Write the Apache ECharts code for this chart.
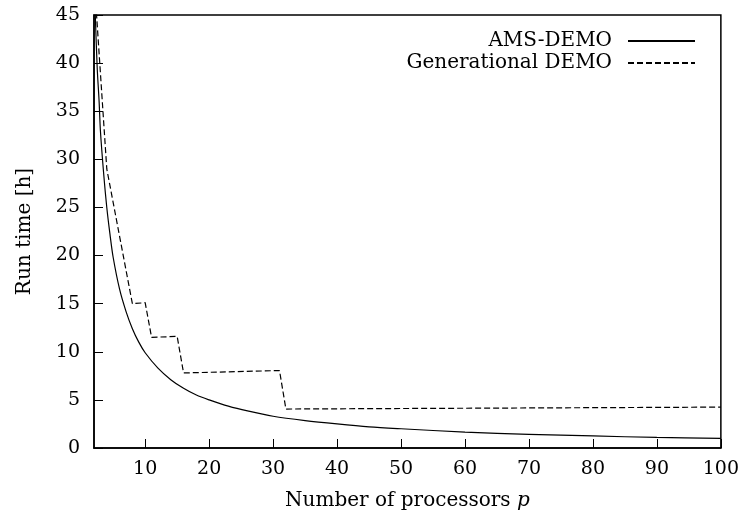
<!DOCTYPE html>
<html><head><meta charset="utf-8">
<script src="https://cdn.jsdelivr.net/npm/echarts@6/dist/echarts.min.js"></script>
<style>html,body{margin:0;padding:0;background:#fff}#c{width:742px;height:523px}</style>
</head><body><div id="c"></div>
<script>
// AMS-DEMO run time readings (p, hours)
const amsP = [2, 2.2, 2.5, 2.8, 3, 3.5, 4, 4.5, 5, 6, 7, 8, 9, 10, 12, 14, 16, 18, 20, 23, 26, 30, 35, 40, 45, 50, 60, 70, 80, 90, 100];
const amsH = [49, 45, 39.5, 36, 33, 28.6, 25, 22.2, 19.8, 16.5, 14.2, 12.4, 11.0, 9.9, 8.3, 7.1, 6.2, 5.5, 5.0, 4.35, 3.85, 3.3, 2.85, 2.5, 2.2, 2.0, 1.65, 1.42, 1.25, 1.1, 1.0];
// Generational DEMO run time readings
const genP = [2, 3, 4, 5, 6, 7, 8, 10, 11, 15, 16, 31, 32, 100];
const genH = [49, 39, 29, 25.5, 22, 18.5, 15, 15.1, 11.5, 11.6, 7.8, 8.05, 4.05, 4.25];
const xTicks = [10, 20, 30, 40, 50, 60, 70, 80, 90, 100];
const seriesNames = ['AMS-DEMO', 'Generational DEMO'];

const FONT = 'DejaVu Serif';
const FS = 19;
const FN = 20;
const zip = (a, b) => a.map((v, i) => [v, b[i]]);
const chart = echarts.init(document.getElementById('c'), null, {renderer: 'canvas'});
chart.setOption({
  animation: false,
  backgroundColor: '#fff',
  textStyle: {fontFamily: FONT, color: '#000'},
  grid: {left: 94, right: 19, top: 15, bottom: 75, show: true, borderColor: '#000', borderWidth: 1.5, containLabel: false},
  legend: {
    orient: 'vertical', right: 41, top: 26, align: 'right',
    itemWidth: 67, itemHeight: 12, itemGap: 2,
    itemStyle: {color: 'transparent', borderColor: 'transparent', borderWidth: 0},
    textStyle: {fontFamily: FONT, fontSize: FN, color: '#000', padding: [0, 11, 0, 0]},
    data: seriesNames
  },
  xAxis: {
    type: 'value', min: 2, max: 100,
    name: 'Number of processors {i|p}', nameLocation: 'middle', nameGap: 43,
    nameTextStyle: {fontFamily: FONT, fontSize: FN, color: '#000', rich: {i: {fontFamily: FONT, fontStyle: 'italic', fontSize: FN, color: '#000'}}},
    axisLine: {lineStyle: {color: '#000', width: 1.5}},
    axisTick: {inside: true, length: 9, lineStyle: {color: '#000', width: 1}, customValues: xTicks},
    axisLabel: {customValues: xTicks, margin: 12, fontFamily: FONT, fontSize: FS, color: '#000'},
    splitLine: {show: false}
  },
  yAxis: {
    type: 'value', min: 0, max: 45, interval: 5,
    name: 'Run time [h]', nameLocation: 'middle', nameGap: 59, nameRotate: 90,
    nameTextStyle: {fontFamily: FONT, fontSize: FN, color: '#000'},
    axisLine: {show: true, lineStyle: {color: '#000', width: 1.5}},
    axisTick: {show: true, inside: true, length: 9, lineStyle: {color: '#000', width: 1}},
    axisLabel: {margin: 14, fontFamily: FONT, fontSize: FS, color: '#000'},
    splitLine: {show: false}
  },
  series: [
    {name: seriesNames[0], type: 'line', data: zip(amsP, amsH), symbol: 'none', smooth: 0.3, clip: true,
     lineStyle: {color: '#000', width: 1.2, type: 'solid'}, itemStyle: {color: '#000'}},
    {name: seriesNames[1], type: 'line', data: zip(genP, genH), symbol: 'none', clip: true,
     lineStyle: {color: '#000', width: 1.2, type: [6, 3]}, itemStyle: {color: '#000'}}
  ]
});
</script></body></html>
